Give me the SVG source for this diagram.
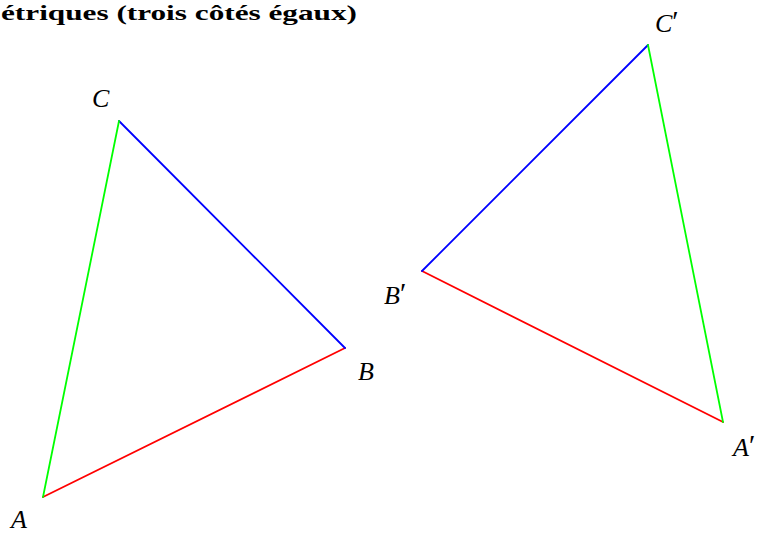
<svg xmlns="http://www.w3.org/2000/svg" width="758" height="534" viewBox="0 0 758 534">
<style>
.e{fill:none;stroke-width:1.8;stroke-linecap:round}
.r{stroke:#ff0000}.g{stroke:#00ff00}.b{stroke:#0000ff}
.l{font-family:"Liberation Serif","Times New Roman",serif;font-style:italic;font-size:26px;fill:#000}
.p{font-style:normal;font-size:29px}
.t{font-family:"Liberation Serif","Times New Roman",serif;font-weight:bold;font-size:22px;fill:#000}
</style>
<rect width="758" height="534" fill="#fff"/>
<text class="t" x="1" y="20" textLength="356" lengthAdjust="spacingAndGlyphs">étriques (trois côtés égaux)</text>
<g id="edges">
<line class="e r" x1="43" y1="497" x2="345" y2="348"/>
<line class="e b" x1="345" y1="348" x2="119" y2="121"/>
<line class="e g" x1="119" y1="121" x2="43" y2="497"/>
<line class="e r" x1="422" y1="271" x2="723" y2="422"/>
<line class="e b" x1="422" y1="271" x2="648" y2="45"/>
<line class="e g" x1="648" y1="45" x2="723" y2="422"/>
</g>
<g id="A"><text class="l" x="11" y="528">A</text></g>
<g id="B"><text class="l" x="358" y="380">B</text></g>
<g id="C"><text class="l" x="92" y="107">C</text></g>
<g id="Bp"><text class="l" x="384" y="304">B<tspan class="p" dy="-1">′</tspan></text></g>
<g id="Cp"><text class="l" x="655" y="32">C<tspan class="p" dy="-1">′</tspan></text></g>
<g id="Ap"><text class="l" x="733" y="456">A<tspan class="p" dy="-1">′</tspan></text></g>
</svg>
